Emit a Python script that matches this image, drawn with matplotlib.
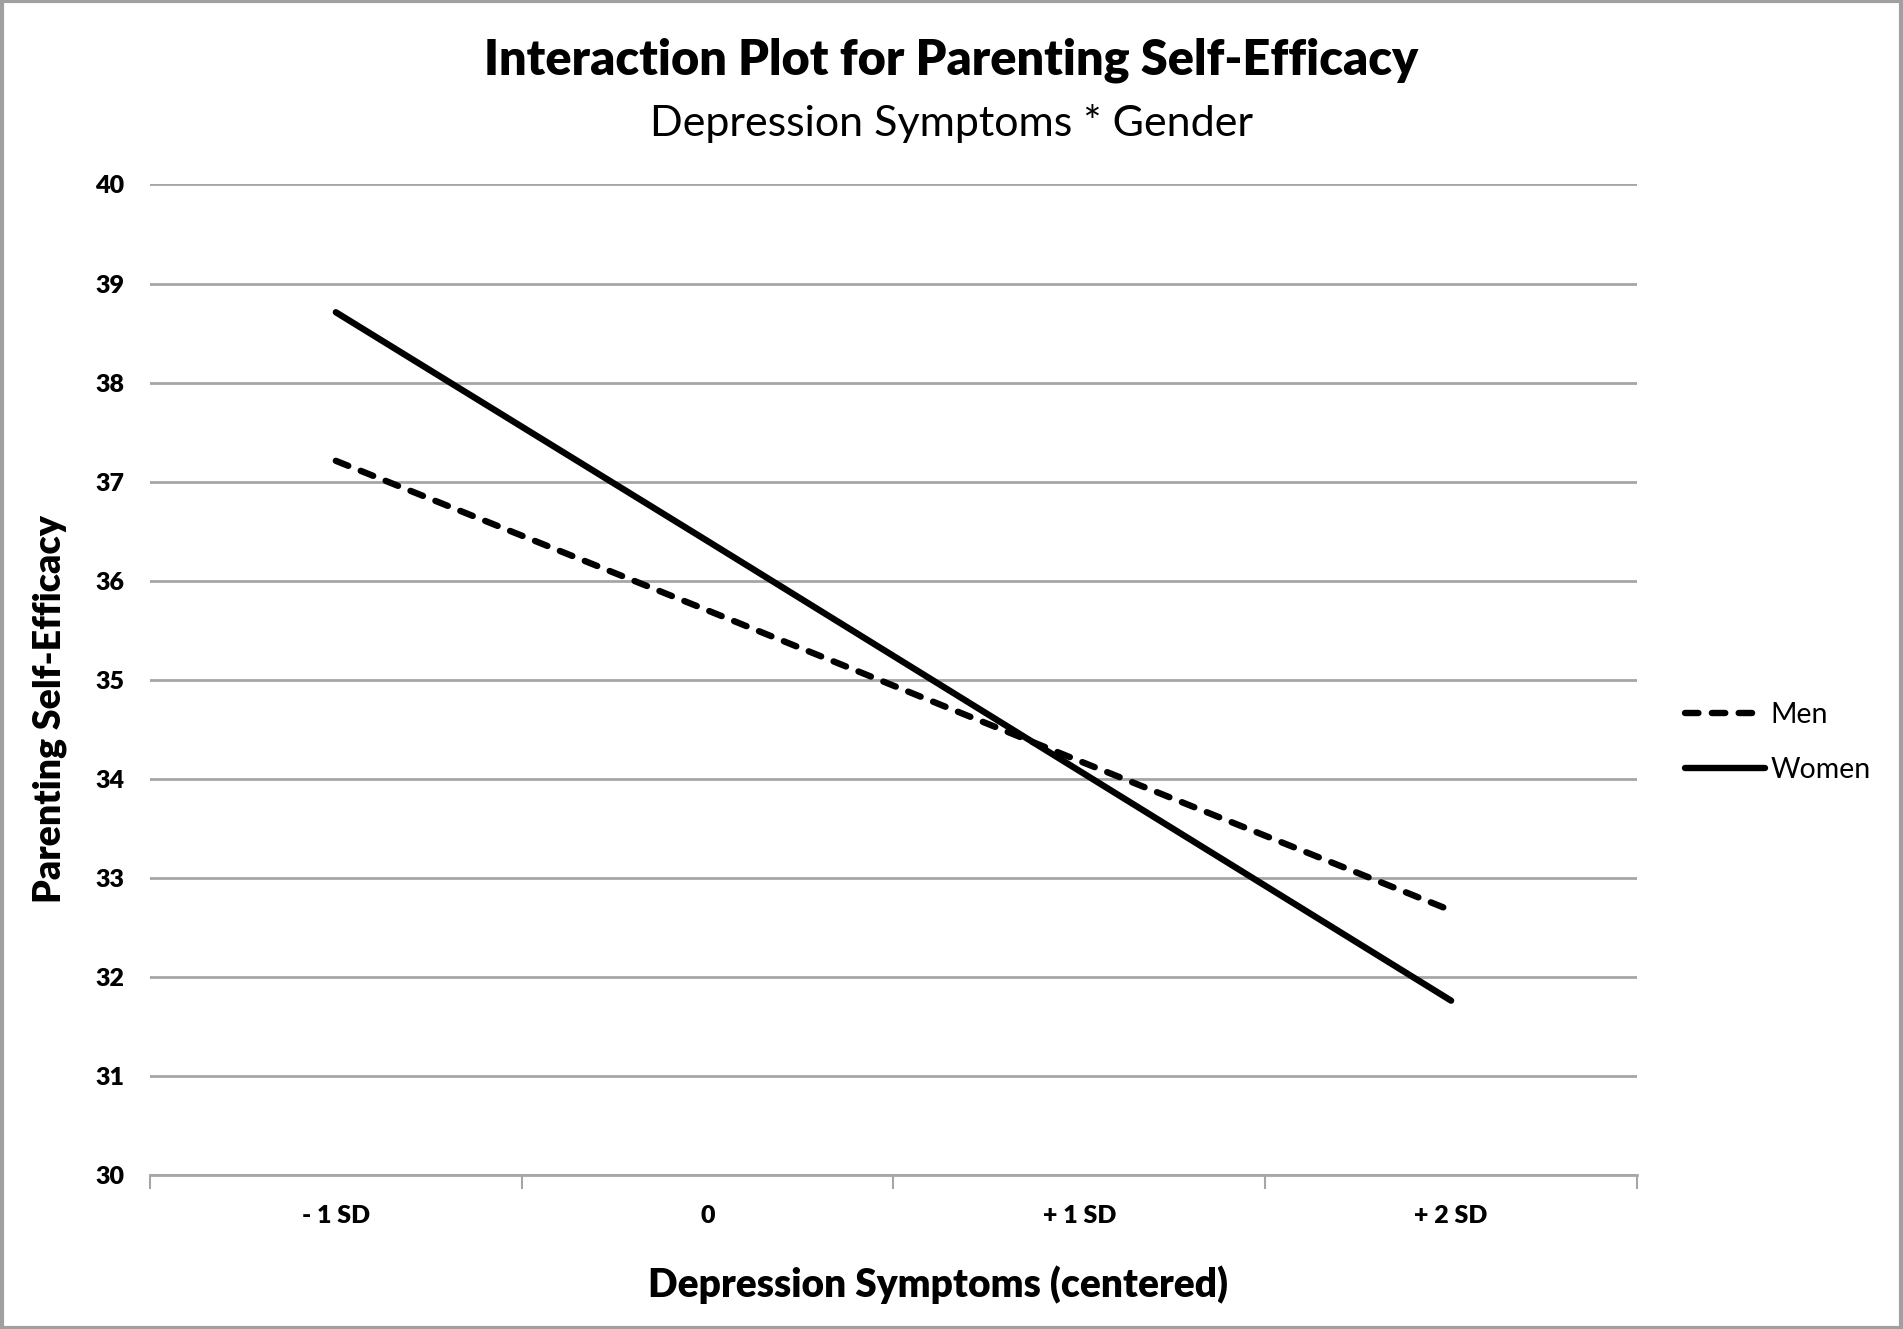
import matplotlib.pyplot as plt
from matplotlib.patches import Rectangle

# values
levels = ["- 1 SD", "0", "+ 1 SD", "+ 2 SD"]
men = [37.21, 35.70, 34.18, 32.67]
women = [38.71, 36.40, 34.08, 31.76]
y_ticks = [30, 31, 32, 33, 34, 35, 36, 37, 38, 39, 40]

FONT = ["Lato", "DejaVu Sans"]
plt.rcParams["font.family"] = FONT

fig = plt.figure(figsize=(19.03, 13.29), dpi=100)
ax = fig.add_axes([0.0788, 0.1159, 0.7814, 0.7453])

x = list(range(len(levels)))
ax.plot(x, men, color="black", lw=4.6, linestyle=(0, (2.1, 2.1)),
        dash_capstyle="round", solid_capstyle="round", label="Men")
ax.plot(x, women, color="black", lw=4.6, solid_capstyle="round", label="Women")

ax.set_xlim(-0.5, len(levels) - 0.5)
ax.set_ylim(30, 40)
ax.set_yticks(y_ticks)
ax.set_yticklabels([str(v) for v in y_ticks], fontsize=18, fontweight="heavy")
ax.yaxis.grid(True, color="#a6a6a6", lw=2)
ax.set_axisbelow(True)
ax.tick_params(axis="y", length=0, pad=18.5)

# category labels sit between the tick marks
ax.set_xticks([i - 0.5 for i in range(len(levels) + 1)])
ax.set_xticklabels([])
ax.set_xticks(x, minor=True)
ax.set_xticklabels(levels, minor=True, fontsize=18, fontweight="heavy")
ax.tick_params(axis="x", which="major", length=10, width=1.5, color="#a6a6a6")
ax.tick_params(axis="x", which="minor", length=0, pad=21.5)

for side in ["left", "right", "top"]:
    ax.spines[side].set_visible(False)
ax.spines["bottom"].set_color("#a6a6a6")
ax.spines["bottom"].set_linewidth(2)

ax.set_xlabel("Depression Symptoms (centered)", fontsize=28, fontweight="heavy")
ax.xaxis.set_label_coords(0.530, -0.091)
ax.set_ylabel("Parenting Self-Efficacy", fontsize=27, fontweight="heavy")
ax.yaxis.set_label_coords(-0.056, 0.4706)

fig.text(0.5, 0.955, "Interaction Plot for Parenting Self-Efficacy",
         ha="center", va="center", fontsize=35, fontweight="heavy")
fig.text(0.5, 0.907, "Depression Symptoms * Gender",
         ha="center", va="center", fontsize=31)

ax.legend(loc="center left", bbox_to_anchor=(0.872, 0.4416),
          bbox_transform=fig.transFigure, frameon=False, fontsize=20.5,
          handlelength=2.8, handletextpad=0.2, labelspacing=1.02)

fig.patches.append(Rectangle((0.001, 0.001), 0.998, 0.998, fill=False,
                             edgecolor="#a0a0a0", lw=3,
                             transform=fig.transFigure, figure=fig))

fig.savefig("out.png", dpi=100)
